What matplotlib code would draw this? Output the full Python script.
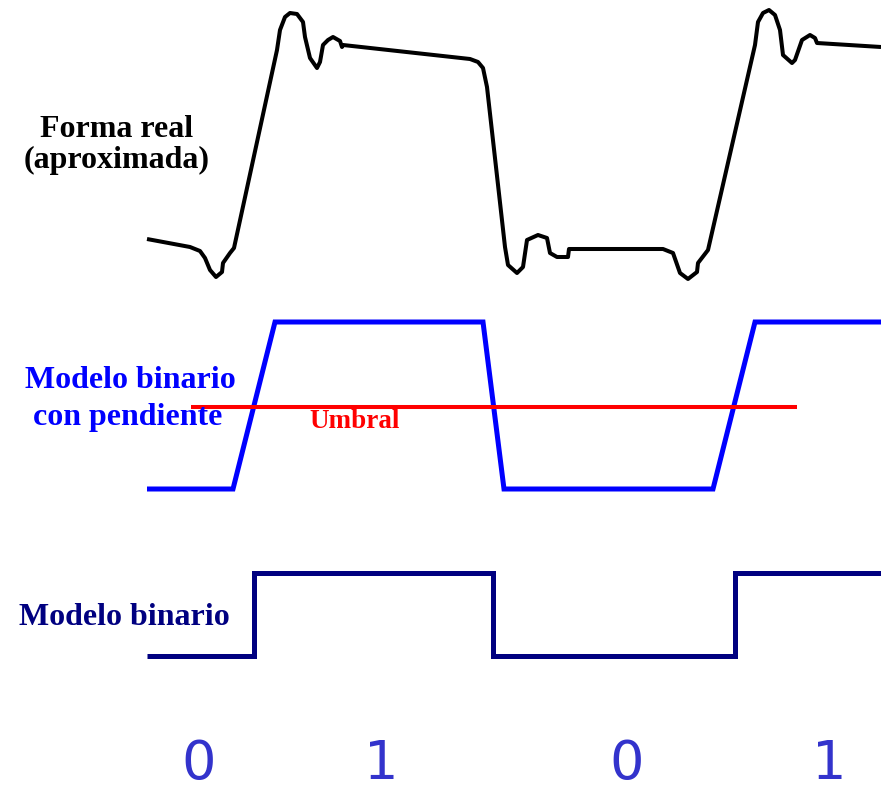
import matplotlib.pyplot as plt

#Coordenadas (en pixeles, y hacia abajo)

#Forma real (aproximada)
real_x = [147, 190, 200, 205, 210, 216, 222, 223, 230, 234, 277, 280, 285, 290, 297, 303, 305, 310, 317,
          320, 323, 328, 333, 340, 342, 343, 470, 478, 483, 487, 505, 508, 517, 523, 527, 538, 547, 550,
          557, 568, 569, 663, 673, 680, 688, 697, 698, 708, 755, 758, 763, 769, 775, 780, 783, 792, 795,
          802, 810, 815, 817, 881]
real_y = [239, 247, 251, 258, 270, 277, 272, 263, 253, 248, 50, 30, 17, 13, 14, 22, 37, 58, 68,
          62, 45, 40, 37, 41, 47, 45, 59, 62, 68, 87, 247, 265, 273, 267, 240, 235, 238, 253,
          257, 257, 249, 249, 253, 273, 279, 272, 263, 250, 45, 22, 13, 10, 15, 30, 55, 63, 60,
          40, 35, 38, 43, 47]

#Modelo binario con pendiente
pend_x = [147, 233, 275, 483, 504, 713, 755, 881]
pend_y = [489, 489, 322, 322, 489, 489, 322, 322]

#Umbral
umbral_x = [191, 797]
umbral_y = [407, 407]

#Modelo binario (escalones)
bin_x = [147, 254, 254, 493, 493, 735, 735, 881]
bin_y = [656, 656, 573, 573, 656, 656, 573, 573]

#Bits
bits = ['0', '1', '0', '1']
bits_x = [199, 381, 627, 829]

############################
"Dibujamos la figura"

fig = plt.figure(figsize=(8.81, 7.91), dpi=100)
ax = fig.add_axes([0, 0, 1, 1])
ax.set_xlim(0, 881)
ax.set_ylim(791, 0)
ax.axis('off')

serif = 'Liberation Serif'

#Curva real
ax.plot(real_x, real_y, color='black', linewidth=2.9, solid_joinstyle='round', solid_capstyle='butt')
ax.text(117, 137, 'Forma real', fontsize=23, fontweight='bold', family=serif, color='black', ha='center', va='baseline')
ax.text(117, 168, '(aproximada)', fontsize=23, fontweight='bold', family=serif, color='black', ha='center', va='baseline')

#Modelo con pendiente y umbral
ax.plot(pend_x, pend_y, color='#0000ff', linewidth=3.6, solid_joinstyle='miter', solid_capstyle='butt')
ax.plot(umbral_x, umbral_y, color='#ff0000', linewidth=2.9, solid_capstyle='butt')
ax.text(130, 388, 'Modelo binario', fontsize=23, fontweight='bold', family=serif, color='#0000ff', ha='center', va='baseline')
ax.text(128, 425, 'con pendiente', fontsize=23, fontweight='bold', family=serif, color='#0000ff', ha='center', va='baseline')
ax.text(355, 428, 'Umbral', fontsize=19.5, fontweight='bold', family=serif, color='#ff0000', ha='center', va='baseline')

#Modelo binario
ax.plot(bin_x, bin_y, color='#000080', linewidth=3.6, solid_joinstyle='miter', solid_capstyle='butt')
ax.text(124, 625, 'Modelo binario', fontsize=23, fontweight='bold', family=serif, color='#000080', ha='center', va='baseline')

#Bits (un poco mas arriba para que no se corten en el borde)
for b, x in zip(bits, bits_x):
    ax.text(x, 779, b, fontsize=39, family='DejaVu Sans', color='#3333cc', ha='center', va='baseline')

fig.savefig('out.png', dpi=100)
